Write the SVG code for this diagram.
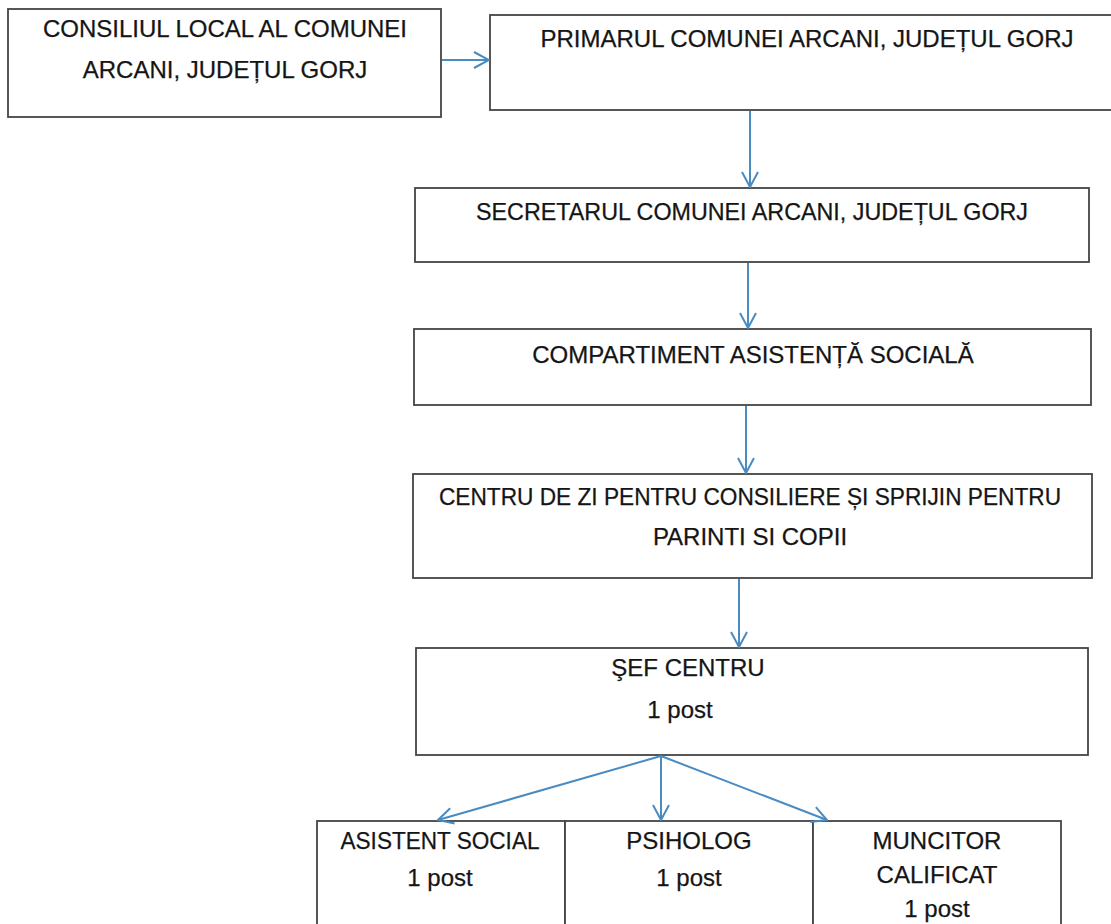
<svg xmlns="http://www.w3.org/2000/svg" width="1111" height="924" viewBox="0 0 1111 924">
<style>
.box{fill:#fff;stroke:#444;stroke-width:1.8}
.t{font-family:"Liberation Sans",Arial,sans-serif;font-size:24px;fill:#151515;text-anchor:middle;stroke:#151515;stroke-width:0.25}
.c{stroke:#4a8bc2;stroke-width:2;fill:none}
</style>
<defs>
<marker id="ah" viewBox="0 0 20 20" refX="19" refY="10" markerWidth="20" markerHeight="20" markerUnits="userSpaceOnUse" orient="auto">
<path d="M4,2 L19,10 L4,18" fill="none" stroke="#4a8bc2" stroke-width="2"/>
</marker>
</defs>
<rect width="1111" height="924" fill="#fff"/>
<g id="n1"><rect class="box" x="8" y="9" width="433" height="108"/>
<text class="t" x="225" y="37">CONSILIUL LOCAL AL COMUNEI</text>
<text class="t" x="225" y="78">ARCANI, JUDEȚUL GORJ</text></g>
<g id="n2"><rect class="box" x="490" y="15" width="640" height="95"/>
<text class="t" x="807" y="47">PRIMARUL COMUNEI ARCANI, JUDEȚUL GORJ</text></g>
<g id="n3"><rect class="box" x="415" y="188" width="674" height="74"/>
<text class="t" x="752" y="220" textLength="552" lengthAdjust="spacingAndGlyphs">SECRETARUL COMUNEI ARCANI, JUDEȚUL GORJ</text></g>
<g id="n4"><rect class="box" x="414" y="329" width="677" height="76"/>
<text class="t" x="753" y="363">COMPARTIMENT ASISTENȚĂ SOCIALĂ</text></g>
<g id="n5"><rect class="box" x="413" y="474" width="679" height="104"/>
<text class="t" x="750" y="505" textLength="622" lengthAdjust="spacingAndGlyphs">CENTRU DE ZI PENTRU CONSILIERE ȘI SPRIJIN PENTRU</text>
<text class="t" x="750" y="545">PARINTI SI COPII</text></g>
<g id="n6"><rect class="box" x="416" y="648" width="672" height="107"/>
<text class="t" x="688" y="676">ŞEF CENTRU</text>
<text class="t" x="680" y="718">1 post</text></g>
<g id="n7"><rect class="box" x="317" y="821" width="248" height="110"/>
<text class="t" x="440" y="849" textLength="199" lengthAdjust="spacingAndGlyphs">ASISTENT SOCIAL</text>
<text class="t" x="440" y="886">1 post</text></g>
<g id="n8"><rect class="box" x="565" y="821" width="248" height="110"/>
<text class="t" x="689" y="849">PSIHOLOG</text>
<text class="t" x="689" y="886">1 post</text></g>
<g id="n9"><rect class="box" x="813" y="821" width="248" height="110"/>
<text class="t" x="937" y="849">MUNCITOR</text>
<text class="t" x="937" y="883">CALIFICAT</text>
<text class="t" x="937" y="917">1 post</text></g>
<g id="connectors">
<line class="c" x1="442" y1="60" x2="489" y2="60" marker-end="url(#ah)"/>
<line class="c" x1="750" y1="111" x2="750" y2="187" marker-end="url(#ah)"/>
<line class="c" x1="748" y1="263" x2="748" y2="328" marker-end="url(#ah)"/>
<line class="c" x1="746" y1="406" x2="746" y2="473" marker-end="url(#ah)"/>
<line class="c" x1="739" y1="579" x2="739" y2="647" marker-end="url(#ah)"/>
<line class="c" x1="661" y1="756" x2="438" y2="820" marker-end="url(#ah)"/>
<line class="c" x1="661" y1="756" x2="661" y2="820" marker-end="url(#ah)"/>
<line class="c" x1="661" y1="756" x2="827" y2="820" marker-end="url(#ah)"/>
</g>
</svg>
